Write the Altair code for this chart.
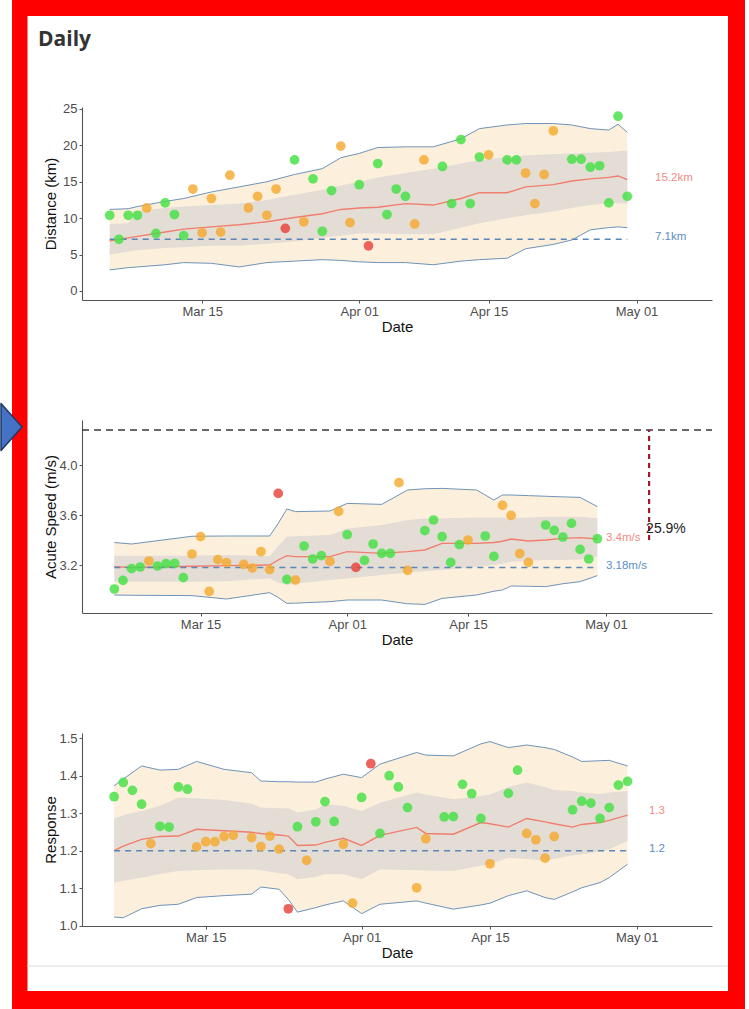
import altair as alt
import pandas as pd

TITLE_TEXT = "Daily"

# ---------------- shared daily observation dates and status classes ----------------
POINT_DATES = [
    "2024-03-05", "2024-03-06", "2024-03-07", "2024-03-08", "2024-03-09", "2024-03-10", "2024-03-11",
    "2024-03-12", "2024-03-13", "2024-03-14", "2024-03-15", "2024-03-16", "2024-03-17", "2024-03-18",
    "2024-03-20", "2024-03-21", "2024-03-22", "2024-03-23", "2024-03-24", "2024-03-25", "2024-03-26",
    "2024-03-27", "2024-03-28", "2024-03-29", "2024-03-30", "2024-03-31",
    "2024-04-01", "2024-04-02", "2024-04-03", "2024-04-04", "2024-04-05", "2024-04-06", "2024-04-07",
    "2024-04-08", "2024-04-10", "2024-04-11", "2024-04-12", "2024-04-13", "2024-04-14", "2024-04-15",
    "2024-04-17", "2024-04-18", "2024-04-19", "2024-04-20", "2024-04-21", "2024-04-22",
    "2024-04-24", "2024-04-25", "2024-04-26", "2024-04-27", "2024-04-28", "2024-04-29", "2024-04-30",
]
G, A, R = "green", "amber", "red"
STATUS = [
    G, G, G, G, A, G, G, G, G, A, A, A, A, A,
    A, A, A, A, R, G, A, G, G, G, A, A,
    G, R, G, G, G, G, A, A,
    G, G, G, G, G, A,
    G, G, A, A, A, A,
    G, G, G, G, G, G, G,
]
STATUS_DOMAIN = [G, A, R]
STATUS_COLORS = ["#44e044", "#f5aa30", "#e8423a"]

X_TICKS = [
    alt.DateTime(year=2024, month=3, date=15, utc=True),
    alt.DateTime(year=2024, month=4, date=1, utc=True),
    alt.DateTime(year=2024, month=4, date=15, utc=True),
    alt.DateTime(year=2024, month=5, date=1, utc=True),
]

# ---------------- panel 1: distance ----------------
DIST = [
    10.4, 7.1, 10.4, 10.4, 11.4, 7.9, 12.1, 10.5, 7.6, 14.0, 8.0, 12.7, 8.1, 15.9,
    11.4, 13.0, 10.4, 14.0, 8.6, 18.0, 9.5, 15.4, 8.2, 13.8, 19.9, 9.4,
    14.6, 6.2, 17.5, 10.5, 14.0, 13.0, 9.2, 18.0,
    17.1, 12.0, 20.8, 12.0, 18.4, 18.7,
    18.0, 18.0, 16.2, 12.0, 16.0, 22.0,
    18.1, 18.1, 17.0, 17.2, 12.1, 24.0, 13.0,
]
DIST_BAND_DATES = [
    "2024-03-05", "2024-03-07", "2024-03-08", "2024-03-11", "2024-03-13", "2024-03-16", "2024-03-19",
    "2024-03-22", "2024-03-25", "2024-03-28", "2024-03-30", "2024-04-01", "2024-04-03", "2024-04-06",
    "2024-04-09", "2024-04-12", "2024-04-14", "2024-04-17", "2024-04-19", "2024-04-22", "2024-04-24",
    "2024-04-26", "2024-04-28", "2024-04-29", "2024-04-30",
]
DIST_OUTER_HI = [11.2, 11.3, 11.6, 12.3, 12.7, 13.6, 14.3, 15.0, 16.0, 16.8, 18.3, 18.9, 19.7, 19.8,
                 19.8, 20.9, 22.3, 22.8, 23.0, 23.0, 22.8, 22.3, 22.1, 22.9, 21.8]
DIST_OUTER_LO = [2.9, 3.2, 3.3, 3.6, 3.9, 3.8, 3.3, 3.9, 4.1, 4.3, 4.2, 4.0, 3.9, 3.9,
                 3.6, 4.1, 4.3, 4.5, 5.8, 6.4, 7.0, 8.4, 8.7, 8.8, 8.7]
DIST_INNER_HI = [9.2, 9.3, 11.0, 11.4, 11.6, 11.8, 12.0, 12.5, 13.2, 13.9, 14.5, 15.0, 15.6, 16.2,
                 16.8, 17.5, 18.0, 18.4, 18.6, 18.8, 18.9, 19.0, 19.1, 19.2, 19.3]
DIST_INNER_LO = [5.0, 5.4, 5.6, 5.9, 6.0, 6.2, 6.2, 6.5, 6.8, 7.3, 7.6, 7.9, 7.9, 7.8,
                 7.8, 8.7, 9.3, 10.0, 10.4, 10.9, 11.4, 11.8, 12.0, 12.0, 12.0]
DIST_MEAN = [6.9, 7.3, 7.5, 8.1, 8.5, 8.8, 9.1, 9.5, 10.1, 10.6, 11.2, 11.4, 11.5, 12.0,
             11.8, 12.7, 13.5, 13.5, 14.3, 14.6, 15.1, 15.4, 15.6, 15.8, 15.3]
DIST_BASELINE = 7.1
DIST_LABEL_DATE = "2024-05-03"
DIST_LABELS = [(15.2, "15.2km"), (7.1, "7.1km")]

# ---------------- panel 2: acute speed ----------------
SPEED = [
    3.008, 3.077, 3.171, 3.184, 3.232, 3.192, 3.211, 3.213, 3.099, 3.288, 3.427, 2.989, 3.243, 3.219,
    3.205, 3.176, 3.307, 3.163, 3.773, 3.085, 3.080, 3.352, 3.248, 3.275, 3.229, 3.629,
    3.443, 3.181, 3.237, 3.368, 3.293, 3.293, 3.859, 3.157,
    3.475, 3.560, 3.427, 3.221, 3.363, 3.400,
    3.432, 3.269, 3.677, 3.597, 3.291, 3.221,
    3.520, 3.477, 3.424, 3.533, 3.325, 3.248, 3.410,
]
SPEED_BAND_DATES = [
    "2024-03-05", "2024-03-07", "2024-03-14", "2024-03-18", "2024-03-23", "2024-03-24", "2024-03-25",
    "2024-03-26", "2024-03-30", "2024-04-01", "2024-04-05", "2024-04-08", "2024-04-10", "2024-04-12",
    "2024-04-16", "2024-04-18", "2024-04-19", "2024-04-20", "2024-04-22", "2024-04-24", "2024-04-26",
    "2024-04-28", "2024-04-30",
]
SPEED_OUTER_HI = [3.380, 3.368, 3.430, 3.432, 3.432, 3.533, 3.648, 3.627, 3.632, 3.693, 3.685, 3.800,
                  3.810, 3.813, 3.800, 3.720, 3.760, 3.760, 3.755, 3.750, 3.745, 3.741, 3.667]
SPEED_OUTER_LO = [2.960, 2.958, 2.955, 2.928, 2.979, 2.940, 2.893, 2.895, 2.907, 2.920, 2.920, 2.890,
                  2.885, 2.933, 2.960, 2.990, 3.000, 3.032, 3.030, 3.027, 3.050, 3.067, 3.115]
SPEED_INNER_HI = [3.275, 3.275, 3.275, 3.280, 3.270, 3.350, 3.427, 3.430, 3.440, 3.493, 3.520, 3.560,
                  3.573, 3.575, 3.580, 3.580, 3.580, 3.575, 3.580, 3.587, 3.587, 3.587, 3.575]
SPEED_INNER_LO = [3.067, 3.067, 3.067, 3.070, 3.093, 3.060, 3.040, 3.050, 3.080, 3.093, 3.120, 3.140,
                  3.150, 3.160, 3.187, 3.200, 3.210, 3.227, 3.235, 3.240, 3.240, 3.245, 3.267]
SPEED_MEAN = [3.187, 3.180, 3.190, 3.195, 3.200, 3.240, 3.275, 3.267, 3.267, 3.307, 3.293, 3.307,
              3.320, 3.373, 3.373, 3.380, 3.390, 3.408, 3.392, 3.400, 3.413, 3.419, 3.408]
SPEED_BASELINE = 3.18
SPEED_LABEL_DATE = "2024-05-01"
SPEED_LABELS = [(3.4, "3.4m/s"), (3.18, "3.18m/s")]
SPEED_TARGET = 4.28
SPEED_GAP_DATE = "2024-05-06"
SPEED_GAP_FROM = 3.4
SPEED_GAP_TEXT = "25.9%"
SPEED_GAP_TEXT_Y = 3.49

# ---------------- panel 3: response ----------------
RESP = [
    1.344, 1.382, 1.361, 1.324, 1.219, 1.265, 1.263, 1.370, 1.364, 1.210, 1.224, 1.224, 1.238, 1.241,
    1.235, 1.211, 1.239, 1.204, 1.045, 1.264, 1.174, 1.277, 1.331, 1.278, 1.217, 1.060,
    1.342, 1.432, 1.246, 1.400, 1.370, 1.315, 1.101, 1.232,
    1.290, 1.291, 1.377, 1.352, 1.286, 1.165,
    1.353, 1.415, 1.246, 1.229, 1.180, 1.238,
    1.309, 1.332, 1.327, 1.286, 1.315, 1.375, 1.385,
]
RESP_BAND_DATES = [
    "2024-03-05", "2024-03-06", "2024-03-08", "2024-03-10", "2024-03-12", "2024-03-14", "2024-03-17",
    "2024-03-20", "2024-03-21", "2024-03-23", "2024-03-24", "2024-03-25", "2024-03-27", "2024-03-28",
    "2024-03-30", "2024-04-01", "2024-04-03", "2024-04-07", "2024-04-08", "2024-04-11", "2024-04-14",
    "2024-04-15", "2024-04-17", "2024-04-19", "2024-04-21", "2024-04-22", "2024-04-24", "2024-04-25",
    "2024-04-27", "2024-04-28", "2024-04-30",
]
RESP_OUTER_HI = [1.373, 1.391, 1.426, 1.415, 1.417, 1.438, 1.417, 1.408, 1.386, 1.384, 1.384, 1.383,
                 1.383, 1.391, 1.404, 1.395, 1.431, 1.462, 1.455, 1.453, 1.485, 1.491, 1.475, 1.482,
                 1.475, 1.470, 1.450, 1.438, 1.440, 1.441, 1.426]
RESP_OUTER_LO = [1.023, 1.021, 1.045, 1.054, 1.057, 1.075, 1.080, 1.084, 1.103, 1.097, 1.070, 1.036,
                 1.048, 1.055, 1.066, 1.032, 1.057, 1.066, 1.060, 1.044, 1.055, 1.060, 1.080, 1.093,
                 1.075, 1.070, 1.090, 1.101, 1.115, 1.128, 1.164]
RESP_INNER_HI = [1.286, 1.295, 1.306, 1.320, 1.342, 1.340, 1.335, 1.325, 1.315, 1.313, 1.313, 1.302,
                 1.310, 1.324, 1.320, 1.306, 1.328, 1.355, 1.350, 1.337, 1.346, 1.350, 1.370, 1.382,
                 1.370, 1.362, 1.359, 1.355, 1.351, 1.355, 1.359]
RESP_INNER_LO = [1.115, 1.120, 1.128, 1.138, 1.146, 1.148, 1.150, 1.150, 1.148, 1.140, 1.137, 1.124,
                 1.130, 1.137, 1.137, 1.124, 1.150, 1.148, 1.147, 1.146, 1.160, 1.164, 1.181, 1.178,
                 1.173, 1.178, 1.188, 1.190, 1.198, 1.204, 1.226]
RESP_MEAN = [1.200, 1.212, 1.230, 1.238, 1.239, 1.257, 1.253, 1.249, 1.246, 1.242, 1.239, 1.214,
             1.215, 1.222, 1.233, 1.214, 1.241, 1.262, 1.246, 1.244, 1.275, 1.272, 1.263, 1.286,
             1.277, 1.272, 1.263, 1.270, 1.275, 1.281, 1.295]
RESP_BASELINE = 1.2
RESP_LABEL_DATE = "2024-05-02"
RESP_LABELS = [(1.3, "1.3"), (1.2, "1.2")]

# ---------------- styling ----------------
OUTER_FILL = "#fcf0dd"
INNER_FILL = "#e4ddd5"
EDGE = "#6f93b8"
MEAN_COLOR = "#f07e6e"
BASE_COLOR = "#5b86b5"
MEAN_LABEL_COLOR = "#f08c84"
BASE_LABEL_COLOR = "#5b8ec5"
W, H = 630, 193
FONT = "Liberation Sans"


def dt(y, m, d, h=0):
    return alt.DateTime(year=y, month=m, date=d, hours=h, utc=True)


def panel(values, band_dates, ohi, olo, ihi, ilo, mean, baseline, label_date, labels,
          x_domain, y_domain, y_ticks, y_fmt, y_title, label_dx=0, extra=None):
    pts = pd.DataFrame({"date": POINT_DATES, "value": values, "status": STATUS})
    band = pd.DataFrame({"date": band_dates, "ohi": ohi, "olo": olo,
                         "ihi": ihi, "ilo": ilo, "mean": mean})
    xs = alt.Scale(type="utc", domain=x_domain)
    ys = alt.Scale(domain=y_domain, nice=False, zero=False)
    xax = alt.Axis(values=X_TICKS, format="%b %d", title="Date", titleY=26,
                   titleBaseline="middle", grid=False)
    yax = alt.Axis(values=y_ticks, format=y_fmt, title=y_title, titleX=-32,
                   titleBaseline="middle", grid=False)

    def X(f="date"):
        return alt.X(f"{f}:T", scale=xs, axis=xax)

    def Y(f):
        return alt.Y(f"{f}:Q", scale=ys, axis=yax)

    outer = alt.Chart(band).mark_area(color=OUTER_FILL).encode(x=X(), y=Y("ohi"), y2="olo")
    inner = alt.Chart(band).mark_area(color=INNER_FILL).encode(x=X(), y=Y("ihi"), y2="ilo")
    hi_line = alt.Chart(band).mark_line(color=EDGE, strokeWidth=1).encode(x=X(), y=Y("ohi"))
    lo_line = alt.Chart(band).mark_line(color=EDGE, strokeWidth=1).encode(x=X(), y=Y("olo"))
    mean_line = alt.Chart(band).mark_line(color=MEAN_COLOR, strokeWidth=1.4).encode(x=X(), y=Y("mean"))
    base_df = pd.DataFrame({"start": [POINT_DATES[0]], "end": [POINT_DATES[-1]], "value": [baseline]})
    base_rule = alt.Chart(base_df).mark_rule(color=BASE_COLOR, strokeDash=[6, 5], strokeWidth=1.5).encode(
        x=X("start"), x2="end", y=Y("value"))
    dots = alt.Chart(pts).mark_circle(size=95, opacity=0.82).encode(
        x=X(), y=Y("value"),
        color=alt.Color("status:N", scale=alt.Scale(domain=STATUS_DOMAIN, range=STATUS_COLORS), legend=None))
    layers = [outer, inner, hi_line, lo_line, mean_line, base_rule, dots]
    for (val, txt), col in zip(labels, [MEAN_LABEL_COLOR, BASE_LABEL_COLOR]):
        df = pd.DataFrame({"date": [label_date], "value": [val], "text": [txt]})
        layers.append(alt.Chart(df).mark_text(
            align="left", baseline="middle", fontSize=11.5, font=FONT, dy=-2, dx=label_dx, color=col).encode(
            x=X(), y=Y("value"), text="text:N"))
    if extra:
        layers += extra(X, Y)
    return layers


def speed_extra(X, Y):
    tgt = pd.DataFrame({"value": [SPEED_TARGET]})
    target = alt.Chart(tgt).mark_rule(color="#3a3a3a", strokeDash=[7, 5], strokeWidth=1.6).encode(
        y=Y("value"), x=alt.value(0), x2=alt.value(W))
    gap_df = pd.DataFrame({"date": [SPEED_GAP_DATE], "lo": [SPEED_GAP_FROM], "hi": [SPEED_TARGET]})
    gap = alt.Chart(gap_df).mark_rule(color="#9e1b32", strokeDash=[5, 4], strokeWidth=2.2).encode(
        x=X(), y=Y("lo"), y2="hi")
    txt_df = pd.DataFrame({"date": [SPEED_GAP_DATE], "value": [SPEED_GAP_TEXT_Y], "text": [SPEED_GAP_TEXT]})
    txt = alt.Chart(txt_df).mark_text(align="left", baseline="middle", fontSize=14, font=FONT,
                                      color="#222222", dx=-3).encode(x=X(), y=Y("value"), text="text:N")
    return [target, gap, txt]


one = pd.DataFrame({"k": [0]})


def frame_layers():
    red = "#ff0000"
    rects = [(-70, -54.5, -107, 902), (-70, 663, -107, -91), (646, 663, -107, 902), (-70, 663, 884, 902)]
    out = []
    for x1, x2, y1, y2 in rects:
        out.append(alt.Chart(one).mark_rect(color=red).encode(
            x=alt.value(x1), x2=alt.value(x2), y=alt.value(y1), y2=alt.value(y2)))
    arrow = alt.Chart(one).mark_point(
        shape="M-1,-2.24L1,0L-1,2.24Z", size=441, filled=True, fill="#4472c4", stroke="#203864",
        strokeWidth=1.5, strokeJoin="round", opacity=1).encode(x=alt.value(-70.5), y=alt.value(320))
    title = alt.Chart(one).mark_text(
        align="left", baseline="alphabetic", fontSize=21, fontWeight="bold", font="Open Sans",
        color="#333333").encode(x=alt.value(-44), y=alt.value(-61), text=alt.value(TITLE_TEXT))
    return out + [arrow, title]


p1 = alt.layer(*panel(DIST, DIST_BAND_DATES, DIST_OUTER_HI, DIST_OUTER_LO, DIST_INNER_HI, DIST_INNER_LO,
                      DIST_MEAN, DIST_BASELINE, DIST_LABEL_DATE, DIST_LABELS,
                      [dt(2024, 3, 2), dt(2024, 5, 9, 4)], [-1.24, 25.27], [0, 5, 10, 15, 20, 25], "d",
                      "Distance (km)"),
               *frame_layers()).properties(width=W, height=H)

p2 = alt.layer(*panel(SPEED, SPEED_BAND_DATES, SPEED_OUTER_HI, SPEED_OUTER_LO, SPEED_INNER_HI, SPEED_INNER_LO,
                      SPEED_MEAN, SPEED_BASELINE, SPEED_LABEL_DATE, SPEED_LABELS,
                      [dt(2024, 3, 1, 6), dt(2024, 5, 13, 7)], [2.816, 4.36], [3.2, 3.6, 4.0], ".1f",
                      "Acute Speed (m/s)", extra=speed_extra)).properties(width=W, height=H)

sep = alt.Chart(one).mark_rule(color="#dddddd").encode(x=alt.value(-55), x2=alt.value(646), y=alt.value(233))
p3 = alt.layer(*panel(RESP, RESP_BAND_DATES, RESP_OUTER_HI, RESP_OUTER_LO, RESP_INNER_HI, RESP_INNER_LO,
                      RESP_MEAN, RESP_BASELINE, RESP_LABEL_DATE, RESP_LABELS,
                      [dt(2024, 3, 1, 12), dt(2024, 5, 9, 5)], [0.999, 1.514], [1.0, 1.1, 1.2, 1.3, 1.4, 1.5],
                      ".1f", "Response", label_dx=3), sep).properties(width=W, height=H)

chart = alt.vconcat(p1, p2, p3, spacing=120, bounds="flush").properties(
    padding={"left": 0, "top": 0, "right": 4, "bottom": 0},
    background="white",
).configure_view(stroke=None).configure_axis(
    grid=False, domainColor="#555555", tickColor="#555555", domainWidth=1.1, tickSize=3,
    labelPadding=2, labelColor="#4d4d4d", labelFont=FONT, labelFontSize=13,
    titleFont=FONT, titleFontSize=15, titleFontWeight="normal", titleColor="#111111"
)

chart.save("out.html", embed_options={"renderer": "svg", "actions": False})
